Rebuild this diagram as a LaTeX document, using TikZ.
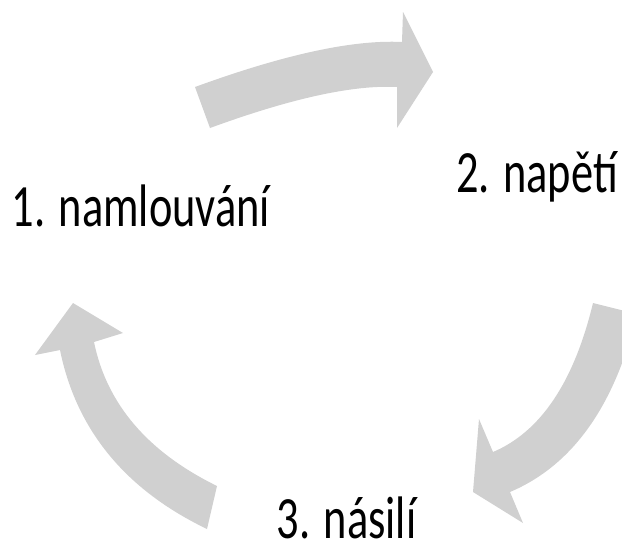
\documentclass[tikz,border=0pt]{standalone}
\usepackage{fontspec}
\usepackage{xcolor}
\usepackage{tikz}
\newfontfamily\steplabelfont[FakeStretch=0.74]{Carlito}
\definecolor{arrowgray}{RGB}{208,208,208}
\tikzset{
  cyclearrow/.style={fill=arrowgray, draw=none},
  steplabel/.style={font=\steplabelfont\fontsize{60}{72}\selectfont, anchor=base, inner sep=0pt}
}

\begin{document}
\begin{tikzpicture}[x=1pt, y=-1pt]

\path[use as bounding box, clip] (0,0) rectangle (622,542);

% arrow 1 -> 2
\fill[cyclearrow] (195,87) .. controls (284,54.5) and (353,39.5) .. (402,42)
  -- (403,12) -- (433,72) -- (397,128) -- (397,87)
  .. controls (353.2,84.7) and (290.9,98.4) .. (210,128) -- cycle;

% arrow 2 -> 3
\fill[cyclearrow] (593,303) .. controls (573.9,382.2) and (540.5,431.9) .. (493,452)
  -- (479,419) -- (473,492) -- (523,523) -- (510,492)
  .. controls (572.4,465.5) and (614.7,406.2) .. (637,314) -- cycle;

% arrow 3 -> 1
\fill[cyclearrow] (217,486) .. controls (147.7,452) and (106.7,404) .. (94,342)
  -- (123,333) -- (73,303) -- (35,355) -- (60,350)
  .. controls (76.3,430) and (125.3,489.7) .. (207,529) -- cycle;

\node (namlouvani) at (141,226) [steplabel]{1. namlouvání};
\node (napeti) at (537,192) [steplabel]{2. napětí};
\node (nasili) at (346.5,538) [steplabel]{3. násilí};

\end{tikzpicture}
\end{document}
